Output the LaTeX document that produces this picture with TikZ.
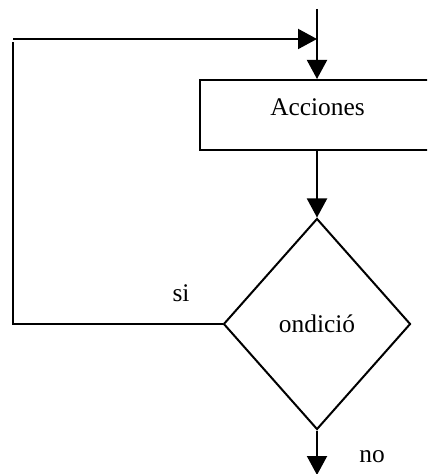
\documentclass[tikz,border=0pt]{standalone}
\usepackage{fontspec}
\setmainfont{Liberation Serif}
\usetikzlibrary{arrows.meta,shapes.geometric}
\begin{document}
\begin{tikzpicture}[x=0.5pt,y=-0.5pt,
  line/.style={line width=1pt,draw=black},
  arr/.style={line,-{Triangle[length=9.5pt,width=10pt]}},
  lbl/.style={font=\fontsize{12.7pt}{15pt}\selectfont,inner sep=0pt},
  boxshape/.style={line,rectangle,minimum width=125pt,minimum height=35pt,inner sep=0pt},
  decision/.style={line,diamond,minimum width=93.5pt,minimum height=105.5pt,inner sep=0pt,font=\fontsize{12.7pt}{15pt}\selectfont}]
\useasboundingbox (0,0) rectangle (427,474);
\clip (0,0) rectangle (427,474);
\node[boxshape] (box) at (325,115) {};
\node[lbl] (acc) at (317.5,107) {Acciones};
\node[decision] (cond) at (317,324) {ondició};
\node[lbl] (si) at (181,293) {si};
\node[lbl] (no) at (372,457) {no};
\coordinate (top) at (317,9);
\coordinate (join) at (317,39);
\coordinate (loopa) at (13,39);
\coordinate (loopb) at (13,42);
\coordinate (exit) at (317,475);
\coordinate (loopc) at (loopb |- cond.west);
\draw[line] (top) -- (join);
\draw[arr] (join) -- (join |- box.north);
\draw[arr] (loopa) -- (join);
\draw[arr] (join |- box.south) -- (cond.north);
\draw[line] (cond.west) -- (loopc) -- (loopb);
\draw[arr] (cond.south) -- (exit);
\end{tikzpicture}
\end{document}
